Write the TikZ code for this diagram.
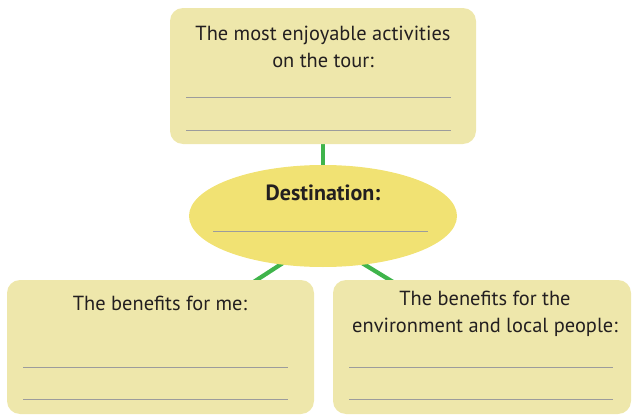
\documentclass[tikz,border=0pt]{standalone}
\usepackage{fontspec}
\setmainfont{PT Sans}
\usetikzlibrary{shapes.geometric,backgrounds}
\definecolor{boxfill}{HTML}{EEE7AB}
\definecolor{ellfill}{HTML}{F1E273}
\definecolor{conn}{HTML}{3FB44B}
\definecolor{rulec}{HTML}{9C9C9C}
\definecolor{txt}{HTML}{231F20}
\tikzset{
  box/.style={draw=none, fill=boxfill, rounded corners=13pt, inner sep=0pt},
  ell/.style={ellipse, draw=none, fill=ellfill, inner sep=0pt},
  lbl/.style={text=txt, font=\fontsize{20.4}{27}\selectfont, align=center, inner sep=0pt},
  conline/.style={draw=conn, line width=4.2pt},
  rule/.style={draw=rulec, line width=0.9pt}
}
\begin{document}
\begin{tikzpicture}[x=1pt,y=-1pt]
\useasboundingbox (0,0) rectangle (633,415);
% boxes
\node[box, minimum width=306pt, minimum height=136pt] (top) at (323,76) {};
\node[box, minimum width=307pt, minimum height=134pt] (bl) at (160.5,347) {};
\node[box, minimum width=298pt, minimum height=134pt] (br) at (482,347) {};
\node[ell, minimum width=268pt, minimum height=102pt] (dest) at (323,216) {};
% connectors
\coordinate (ls) at (296,254.5);
\coordinate (le) at (249,285);
\coordinate (rs) at (350,255.7);
\coordinate (re) at (398,285);
\begin{scope}[on background layer]
\draw[conline] (top.south) -- (dest.north);
\draw[conline] (ls) -- (le);
\draw[conline] (rs) -- (re);
\end{scope}
% texts
\node[lbl] (toptxt) at (323,47) {The most enjoyable activities\\on the tour:};
\node[lbl, font=\fontsize{22}{27}\bfseries] (desttxt) at (323,193) {Destination:};
\node[lbl] (bltxt) at (160,303) {The benefits for me:};
\node[lbl] (brtxt) at (485,314) {The benefits for the\\environment and local people:};
% writing rules
\coordinate (t1a) at (186,97);  \coordinate (t1b) at (451,97);
\coordinate (t2a) at (186,130); \coordinate (t2b) at (451,130);
\draw[rule] (t1a) -- (t1b);
\draw[rule] (t2a) -- (t2b);
\coordinate (d1a) at (213,231); \coordinate (d1b) at (428,231);
\draw[rule] (d1a) -- (d1b);
\coordinate (b1a) at (23,367);  \coordinate (b1b) at (288,367);
\coordinate (b2a) at (23,399);  \coordinate (b2b) at (288,399);
\draw[rule] (b1a) -- (b1b);
\draw[rule] (b2a) -- (b2b);
\coordinate (r1a) at (349,367); \coordinate (r1b) at (613,367);
\coordinate (r2a) at (349,399); \coordinate (r2b) at (613,399);
\draw[rule] (r1a) -- (r1b);
\draw[rule] (r2a) -- (r2b);
\end{tikzpicture}
\end{document}
